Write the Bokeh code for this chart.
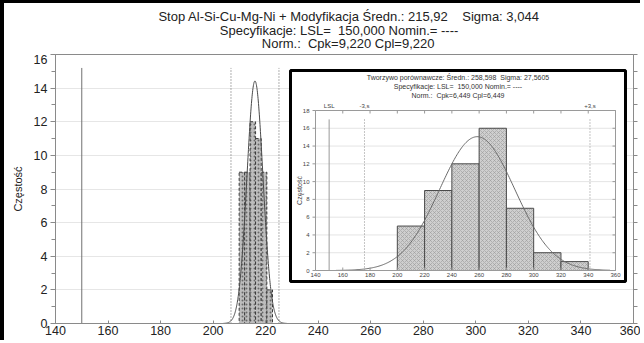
import numpy as np
from bokeh.plotting import figure
from bokeh.layouts import column
from bokeh.models import Range1d, LinearAxis, FixedTicker
from bokeh.core.properties import value
from bokeh.embed import file_html
from bokeh.resources import INLINE

# ---------------- data ----------------
main_edges = [209.9, 212.0, 214.05, 216.15, 218.3, 220.45, 222.6]
main_counts = [9, 9, 12, 11, 9, 2]
main_mean = 215.92
main_sigma = 3.044
main_lsl = 150.0

inset_edges = [200, 220, 240, 260, 280, 300, 320, 340]
inset_counts = [5, 9, 12, 16, 7, 2, 1]
inset_mean = 258.598
inset_sigma = 27.5605
inset_lsl = 150.0

x_ticks = [140, 160, 180, 200, 220, 240, 260, 280, 300, 320, 340, 360]
main_y_ticks = [0, 2, 4, 6, 8, 10, 12, 14, 16]
main_y_minor = list(range(0, 17))
inset_y_ticks = [0, 2, 4, 6, 8, 10, 12, 14, 16, 18]

NB = "\u00a0"
title_lines = [
    "Stop Al-Si-Cu-Mg-Ni + Modyfikacja Średn.: 215,92" + NB * 4 + "Sigma: 3,044",
    "Specyfikacje: LSL=" + NB * 2 + "150,000 Nomin.= ----",
    "Norm.:" + NB * 2 + "Cpk=9,220 Cpl=9,220",
]
inset_title_lines = [
    "Tworzywo porównawcze: Średn.: 258,598" + NB * 2 + "Sigma: 27,5605",
    "Specyfikacje: LSL=" + NB * 2 + "150,000 Nomin.= ----",
    "Norm.:" + NB * 2 + "Cpk=6,449 Cpl=6,449",
]
inset_top_labels = ["LSL", "-3,s", "+3,s"]
y_label = "Częstość"

FONT = "Liberation Sans"
TXT = "#222222"

# ---------------- layout constants (page px) ----------------
BL, BT = 4, 3                 # thick black page border (left, top)
PW, PH = 644, 343
MAIN_L, MAIN_R, MAIN_T, MAIN_B = 55, 633, 57, 326
IN_X0, IN_X1 = 315, 615      # inset px of x=140 and x=360
IN_Y0, IN_Y1 = 273, 113      # inset px of y=0 and y=18
BOX_L, BOX_R, BOX_T, BOX_B = 290, 625, 73, 284
TITLE_X = [329, 318, 328]
TITLE_Y = [16, 30, 43]

sx = (IN_X1 - IN_X0) / (x_ticks[-1] - x_ticks[0])
sy = (IN_Y0 - IN_Y1) / inset_y_ticks[-1]


def ix(px):
    return x_ticks[0] + (px - IN_X0) / sx


def iy(py):
    return (IN_Y0 - py) / sy


# ---------------- title strip ----------------
TH = MAIN_T - BT
tfig = figure(width=PW - BL, height=TH, x_range=Range1d(BL, PW), y_range=Range1d(0, TH),
              output_backend="svg", toolbar_location=None,
              min_border_left=0, min_border_right=0, min_border_top=0, min_border_bottom=0)
tfig.axis.visible = False
tfig.grid.visible = False
tfig.outline_line_color = None
tfig.styles = {"border-left": f"{BL}px solid black", "border-top": f"{BT}px solid black"}
tfig.text(x=TITLE_X, y=[MAIN_T - v for v in TITLE_Y], text=title_lines,
          text_font=value(FONT), text_font_size="13px", text_color=TXT,
          text_align="center", text_baseline="middle")

# ---------------- main figure ----------------
p = figure(width=PW - BL, height=PH - MAIN_T, x_range=Range1d(x_ticks[0], x_ticks[-1]),
           y_range=Range1d(main_y_ticks[0], main_y_ticks[-1]),
           output_backend="svg", toolbar_location=None,
           min_border_left=MAIN_L - BL, min_border_right=PW - MAIN_R,
           min_border_top=0, min_border_bottom=PH - MAIN_B)
p.styles = {"border-left": f"{BL}px solid black"}
p.outline_line_color = "#8a8a8a"
p.background_fill_color = "white"
p.border_fill_color = "white"

p.extra_x_ranges = {"ix": Range1d(ix(MAIN_L), ix(MAIN_R))}
p.extra_y_ranges = {"iy": Range1d(iy(MAIN_B), iy(MAIN_T))}

# axes
p.xaxis.ticker = FixedTicker(ticks=x_ticks)
p.yaxis.ticker = FixedTicker(ticks=main_y_ticks, minor_ticks=main_y_minor)
for ax in p.xaxis + p.yaxis:
    ax.axis_line_color = "#8a8a8a"
    ax.major_tick_line_color = "#8a8a8a"
    ax.minor_tick_line_color = "#8a8a8a"
    ax.major_label_text_font = FONT
    ax.major_label_text_font_size = "12.5px"
    ax.major_label_text_color = TXT
p.xaxis.major_tick_in = 3
p.xaxis.major_tick_out = 0
p.xaxis.minor_tick_out = 0
p.xaxis.minor_tick_in = 0
p.xaxis.major_label_standoff = 2
p.yaxis.major_tick_in = 0
p.yaxis.major_tick_out = 5
p.yaxis.minor_tick_in = 0
p.yaxis.minor_tick_out = 4
p.yaxis.major_label_standoff = 3
p.yaxis.axis_label = y_label
p.yaxis.axis_label_text_font = FONT
p.yaxis.axis_label_text_font_size = "11px"
p.yaxis.axis_label_text_font_style = "normal"
p.yaxis.axis_label_text_color = TXT
p.yaxis.axis_label_standoff = 7

# right axis: tick marks only (all as minor ticks, so no labels)
right_ax = LinearAxis(ticker=FixedTicker(ticks=[], minor_ticks=main_y_minor),
                      axis_line_color="#8a8a8a", minor_tick_line_color="#8a8a8a",
                      minor_tick_in=0, minor_tick_out=4)
p.add_layout(right_ax, "right")

p.xgrid.visible = False
p.ygrid.ticker = FixedTicker(ticks=main_y_ticks)
p.ygrid.grid_line_color = "#e6e6e6"

# ---------------- main histogram ----------------
n_main = sum(main_counts)
bw_main = (main_edges[-1] - main_edges[0]) / len(main_counts)
p.quad(left=main_edges[:-1], right=main_edges[1:], top=main_counts, bottom=0,
       fill_color="#bdbdbd", line_color="#3a3a3a", line_width=1, line_dash="3 2",
       hatch_pattern="dot", hatch_color="#6a6a6a", hatch_scale=4)
xs = np.linspace(main_mean - 4 * main_sigma, main_mean + 4 * main_sigma, 300)
ys = n_main * bw_main / (main_sigma * np.sqrt(2 * np.pi)) * np.exp(-0.5 * ((xs - main_mean) / main_sigma) ** 2)
p.line(xs, ys, line_color="#4a4a4a", line_width=1)
p.segment(x0=[main_lsl], x1=[main_lsl], y0=[0], y1=[15.2], line_color="#707070", line_width=1)
p.segment(x0=[main_mean - 3 * main_sigma, main_mean + 3 * main_sigma],
          x1=[main_mean - 3 * main_sigma, main_mean + 3 * main_sigma],
          y0=[0, 0], y1=[15.2, 15.2], line_color="#606060", line_width=1, line_dash="1 2")

# ---------------- inset ----------------
R = dict(x_range_name="ix", y_range_name="iy")
p.quad(left=[ix(BOX_L)], right=[ix(BOX_R)], top=[iy(BOX_T)], bottom=[iy(BOX_B)],
       fill_color="white", line_color="black", line_width=3, **R)
p.segment(x0=[x_ticks[0]] * (len(inset_y_ticks) - 2), x1=[x_ticks[-1]] * (len(inset_y_ticks) - 2),
          y0=inset_y_ticks[1:-1], y1=inset_y_ticks[1:-1], line_color="#e4e4e4", line_width=1, **R)
n_in = sum(inset_counts)
bw_in = inset_edges[1] - inset_edges[0]
p.quad(left=inset_edges[:-1], right=inset_edges[1:], top=inset_counts, bottom=0,
       fill_color="#cfcfcf", line_color="#4a4a4a", line_width=1,
       hatch_pattern="diagonal_cross", hatch_color="#9a9a9a", hatch_scale=4, hatch_weight=0.6, **R)
xi = np.linspace(155, 356, 300)
yi = n_in * bw_in / (inset_sigma * np.sqrt(2 * np.pi)) * np.exp(-0.5 * ((xi - inset_mean) / inset_sigma) ** 2)
p.line(xi, yi, line_color="#6a6a6a", line_width=1, **R)
p.segment(x0=[inset_lsl], x1=[inset_lsl], y0=[0], y1=[17], line_color="#9a9a9a", line_width=1, **R)
lo3, hi3 = inset_mean - 3 * inset_sigma, inset_mean + 3 * inset_sigma
p.segment(x0=[lo3, hi3], x1=[lo3, hi3], y0=[0, 0], y1=[17, 17],
          line_color="#8a8a8a", line_width=1, line_dash="1 2", **R)
# inset frame
p.quad(left=[x_ticks[0]], right=[x_ticks[-1]], bottom=[inset_y_ticks[0]], top=[inset_y_ticks[-1]],
       fill_color=None, line_color="#9a9a9a", line_width=1, **R)
# inset ticks
tx = 3 / sx
ty = 3 / sy
p.segment(x0=[x_ticks[0] - tx] * len(inset_y_ticks), x1=[x_ticks[0]] * len(inset_y_ticks),
          y0=inset_y_ticks, y1=inset_y_ticks, line_color="#9a9a9a", **R)
p.segment(x0=[x_ticks[-1] - tx] * len(inset_y_ticks), x1=[x_ticks[-1]] * len(inset_y_ticks),
          y0=inset_y_ticks, y1=inset_y_ticks, line_color="#9a9a9a", **R)
p.segment(x0=x_ticks, x1=x_ticks, y0=[0] * len(x_ticks), y1=[ty] * len(x_ticks),
          line_color="#9a9a9a", **R)
p.segment(x0=x_ticks, x1=x_ticks, y0=[inset_y_ticks[-1]] * len(x_ticks),
          y1=[inset_y_ticks[-1] - ty] * len(x_ticks), line_color="#9a9a9a", **R)
# inset tick labels
p.text(x=[x_ticks[0] - 6 / sx] * len(inset_y_ticks), y=inset_y_ticks,
       text=[str(v) for v in inset_y_ticks], text_font=value(FONT), text_font_size="6px",
       text_color="#444444", text_align="right", text_baseline="middle", **R)
p.text(x=x_ticks, y=[-2 / sy] * len(x_ticks), text=[str(v) for v in x_ticks],
       text_font=value(FONT), text_font_size="6px", text_color="#444444",
       text_align="center", text_baseline="top", **R)
p.text(x=[inset_lsl, lo3, hi3], y=[inset_y_ticks[-1] + 2 / sy] * 3, text=inset_top_labels,
       text_font=value(FONT), text_font_size="6px", text_color="#444444",
       text_align="center", text_baseline="bottom", **R)
p.text(x=[ix((BOX_L + BOX_R) / 2)] * 3, y=[iy(80), iy(89), iy(98)], text=inset_title_lines,
       text_font=value(FONT), text_font_size="7px", text_color="#333333",
       text_align="center", text_baseline="middle", **R)
p.text(x=[ix(299)], y=[iy((IN_Y0 + IN_Y1) / 2)], text=[y_label], angle=np.pi / 2,
       text_font=value(FONT), text_font_size="7px", text_color="#444444",
       text_align="center", text_baseline="middle", **R)

layout = column(tfig, p, spacing=0)
open("out.html", "w").write(file_html(layout, INLINE))
